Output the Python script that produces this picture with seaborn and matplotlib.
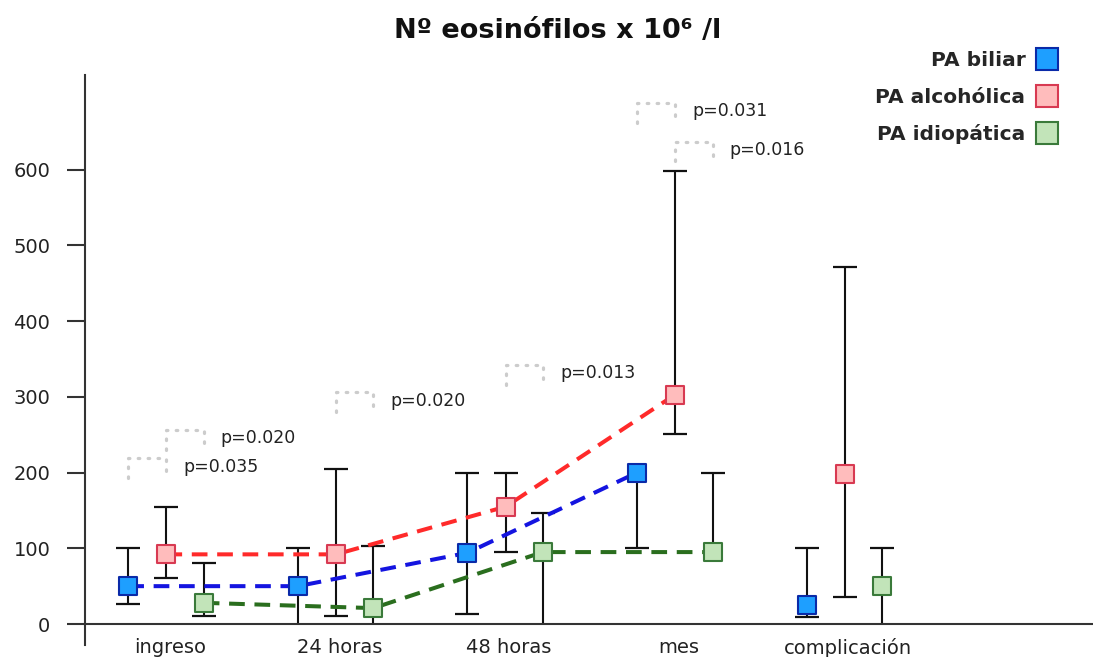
import numpy as np
import pandas as pd
import matplotlib
matplotlib.use("Agg")
import matplotlib.pyplot as plt
from matplotlib.lines import Line2D
import seaborn as sns

# ---------------- data ----------------
categories = ["ingreso", "24 horas", "48 horas", "mes", "complicación"]
series_names = ["PA biliar", "PA alcohólica", "PA idiopática"]

biliar = [50, 50, 94, 200, 25]
biliar_lo = [26, 0, 13, 100, 9]
biliar_hi = [100, 100, 200, 200, 100]

alcoholica = [92, 92, 155, 303, 198]
alcoholica_lo = [61, 10, 95, 251, 36]
alcoholica_hi = [155, 205, 200, 598, 471]

idiopatica = [28, 21, 95, 95, 50]
idiopatica_lo = [10, 0, 0, 95, 0]
idiopatica_hi = [80, 103, 147, 200, 100]

# p-value brackets: (category, series a, series b), top value, label
p_cats = [0, 0, 1, 2, 3, 3]
p_from = [0, 1, 1, 1, 0, 1]
p_to = [1, 2, 2, 2, 1, 2]
p_tops = [219, 256, 306, 342, 688, 637]
p_labels = ["p=0.035", "p=0.020", "p=0.020", "p=0.013", "p=0.031", "p=0.016"]

# ---------------- style ----------------
sns.set_theme(style="white")
plt.rcParams["font.family"] = ["DejaVu Sans"]

offsets = [-0.245, -0.02, 0.2]
line_colors = ["#1414e0", "#ff2a2a", "#2a6e1e"]
face_colors = ["#1e9fff", "#ffbcbc", "#c2e4b9"]
edge_colors = ["#0a2aa8", "#d83a52", "#3a7a3a"]

values = [biliar, alcoholica, idiopatica]
los = [biliar_lo, alcoholica_lo, idiopatica_lo]
his = [biliar_hi, alcoholica_hi, idiopatica_hi]

fig = plt.figure(figsize=(10.93, 6.57), dpi=100)
ax = fig.add_axes([85 / 1093, 12 / 657, 1008 / 1093, 570 / 657])

cat_idx = np.arange(len(categories))

rows = []
for s, name in enumerate(series_names):
    for i in range(len(categories)):
        rows.append({"serie": name, "x": cat_idx[i] + offsets[s],
                     "valor": values[s][i], "lo": los[s][i], "hi": his[s][i],
                     "cat": i})
df = pd.DataFrame(rows)

# error bars (drawn manually to allow one-sided bars)
for s, name in enumerate(series_names):
    d = df[df.serie == name]
    ax.vlines(d.x, d.lo, d.hi, color="#111111", lw=1.5, zorder=2)
    m_lo = (d.lo < d.valor) & (d.lo > 0)
    m_hi = d.hi > d.valor
    ax.plot(d.x[m_lo], d.lo[m_lo], "_", color="#111111", ms=17, mew=1.6, zorder=2)
    ax.plot(d.x[m_hi], d.hi[m_hi], "_", color="#111111", ms=17, mew=1.6, zorder=2)

# dashed connecting lines (ingreso .. mes)
n_before = len(ax.lines)
for s, name in enumerate(series_names):
    d = df[(df.serie == name) & (df.cat < 4)]
    sns.lineplot(x=d.x.values, y=d.valor.values, ax=ax, color=line_colors[s],
                 lw=2.9, sort=False, zorder=3, estimator=None)
for l in ax.lines[n_before:]:
    l.set_dashes((3.9, 2.4))

# markers
for s, name in enumerate(series_names):
    d = df[df.serie == name]
    sns.scatterplot(x=d.x.values, y=d.valor.values, ax=ax, marker="s", s=150,
                    color=face_colors[s], edgecolor=edge_colors[s],
                    linewidth=1.5, zorder=4)

# p-value brackets
bh = 26
for c, a, b, top, lab in zip(p_cats, p_from, p_to, p_tops, p_labels):
    x1 = c + offsets[a]
    x2 = c + offsets[b]
    ax.plot([x1, x1, x2, x2], [top - bh, top, top, top - bh],
            ls=(0, (0.5, 2.6)), color="#cccccc", lw=2.3,
            dash_capstyle="round", zorder=1)
    ax.text(x2 + 0.1, top - 11, lab, fontsize=12.5, color="#222222",
            va="center", ha="left")

# axes
ax.set_xlim(-0.5, 5.443)
ax.set_ylim(-27.7, 725)
ax.set_xticks(cat_idx)
ax.set_xticklabels(categories)
ax.set_xticks(np.arange(-0.5, 5.0, 1.0), minor=True)
ax.tick_params(axis="x", which="major", length=0, pad=10, labelsize=14,
               labelcolor="#222222")
ax.tick_params(axis="x", which="minor", length=16, width=1.5,
               color="#333333", direction="out")
ax.set_yticks([0, 100, 200, 300, 400, 500, 600])
ax.set_yticklabels(["0", "100", "200", "300", "400", "500", "600"])
ax.tick_params(axis="y", length=13, width=1.5, color="#333333",
               direction="out", pad=12, left=True, labelsize=14,
               labelcolor="#222222")
ax.spines["bottom"].set_position(("data", 0))
for sp in ["top", "right"]:
    ax.spines[sp].set_visible(False)
for sp in ["left", "bottom"]:
    ax.spines[sp].set_color("#333333")
    ax.spines[sp].set_linewidth(1.5)
ax.set_xlabel("")
ax.set_ylabel("")
ax.grid(False)

# title
fig.text(0.5105, 0.953, "Nº eosinófilos x 10⁶ /l", ha="center", va="center",
         fontsize=19.5, fontweight="bold", color="#111111")

# legend
handles = [Line2D([], [], ls="none", marker="s", ms=15.5,
                  markerfacecolor=face_colors[s], markeredgecolor=edge_colors[s],
                  markeredgewidth=1.5) for s in range(3)]
leg = fig.legend(handles, series_names, loc="upper right",
                 bbox_to_anchor=(0.976, 0.937), bbox_transform=fig.transFigure,
                 markerfirst=False, frameon=False, borderpad=0,
                 handletextpad=0.55, labelspacing=0.85, handlelength=1.0,
                 prop={"weight": "bold", "size": 14.5})

fig.savefig("out.png", dpi=100)
